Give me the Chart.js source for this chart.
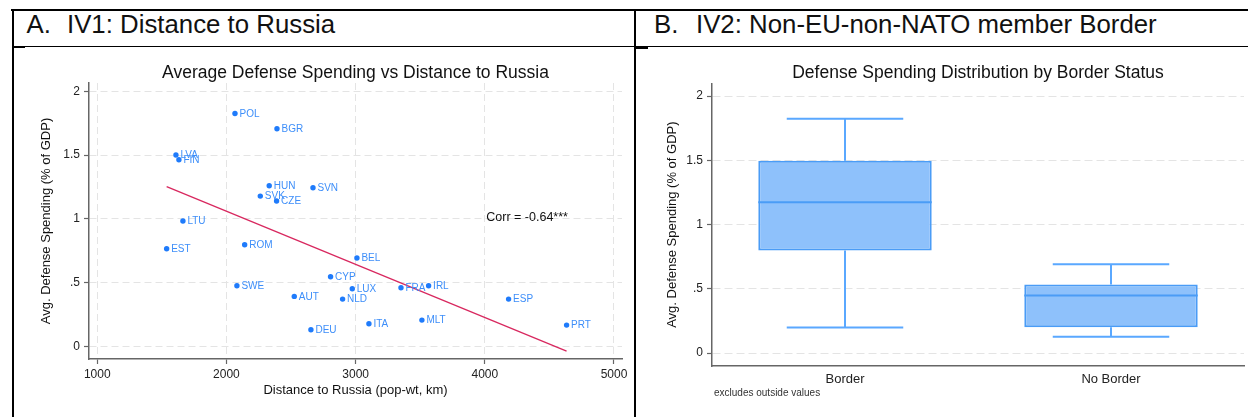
<!DOCTYPE html>
<html>
<head>
<meta charset="utf-8">
<script src="https://cdn.jsdelivr.net/npm/chart.js@4/dist/chart.umd.min.js"></script>
<style>
  html, body { margin: 0; padding: 0; background: #fff; }
  body { width: 1248px; height: 417px; position: relative; overflow: hidden;
         font-family: "Liberation Sans", Arial, sans-serif; }
  .rule { position: absolute; background: #000; }
  .hdr { position: absolute; font-size: 25.8px; line-height: 25.8px; color: #111; white-space: pre; }
  #wrapA { position: absolute; left: 13px; top: 48px; width: 619px; height: 369px; }
  #wrapB { position: absolute; left: 637px; top: 48px; width: 611px; height: 369px; }
  .note { position: absolute; left: 714px; top: 387px; font-size: 10px; line-height: 12px; color: #333; }
</style>
</head>
<body>
<!-- table frame -->
<div class="rule" style="left:11px;top:9px;width:1237px;height:2px;"></div>
<div class="rule" style="left:11.5px;top:9px;width:2px;height:408px;"></div>
<div class="rule" style="left:634px;top:9px;width:2px;height:408px;"></div>
<div class="rule" style="left:11.5px;top:45.5px;width:1236.5px;height:1.5px;"></div>
<div class="rule" style="left:13px;top:45.5px;width:12px;height:2.5px;"></div>
<div class="rule" style="left:636px;top:46px;width:12px;height:2.5px;"></div>

<span class="hdr" style="left:26.5px;top:11.7px;">A.</span>
<span class="hdr" style="left:67px;top:11.7px;">IV1: Distance to Russia</span>
<span class="hdr" style="left:654px;top:11.7px;">B.</span>
<span class="hdr" style="left:696px;top:11.7px;">IV2: Non-EU-non-NATO member Border</span>

<div id="wrapA"><canvas id="scatterChart"></canvas></div>
<div id="wrapB"><canvas id="boxChart"></canvas></div>
<div class="note">excludes outside values</div>

<script>
// ---- Panel A: average defense spending vs population-weighted distance to Russia ----
const countries = ['POL','BGR','LVA','FIN','HUN','SVN','SVK','CZE','LTU','EST','ROM','SWE',
                   'AUT','DEU','BEL','CYP','LUX','NLD','FRA','IRL','ESP','MLT','ITA','PRT'];
const distanceKm = [2066, 2391, 1609, 1632, 2331, 2670, 2262, 2388, 1663, 1537, 2141, 2081,
                    2525, 2654, 3010, 2806, 2974, 2899, 3351, 3565, 4184, 3513, 3103, 4633];
const defenseSpending = [1.826, 1.706, 1.500, 1.463, 1.259, 1.243, 1.178, 1.139, 0.982, 0.765, 0.796, 0.475,
                         0.391, 0.129, 0.692, 0.545, 0.451, 0.370, 0.459, 0.475, 0.370, 0.205, 0.176, 0.166];
const xTickValues = [1000, 2000, 3000, 4000, 5000];
const yTickValues = [0, 0.5, 1, 1.5, 2];
const yTickLabels = ['0', '.5', '1', '1.5', '2'];
const corrLabel = 'Corr = -0.64***';

// ---- Panel B: spending distribution by border status ----
const borderGroups = ['Border', 'No Border'];
const boxLow    = [0.200, 0.127];
const boxQ1     = [0.799, 0.202];
const boxMedian = [1.174, 0.449];
const boxQ3     = [1.498, 0.534];
const boxHigh   = [1.825, 0.692];

const FONT = '"Liberation Sans", Arial, sans-serif';
const AXIS_COLOR = '#666';
const GRID_COLOR = '#e4e4e4';

// least-squares fit of spending on distance, drawn across the observed distance range
function linearFit(xs, ys) {
  const n = xs.length;
  const mx = xs.reduce((a, b) => a + b, 0) / n;
  const my = ys.reduce((a, b) => a + b, 0) / n;
  let sxy = 0, sxx = 0;
  for (let i = 0; i < n; i++) { sxy += (xs[i] - mx) * (ys[i] - my); sxx += (xs[i] - mx) ** 2; }
  const slope = sxy / sxx;
  const x0 = Math.min(...xs), x1 = Math.max(...xs);
  return [{ x: x0, y: my + slope * (x0 - mx) }, { x: x1, y: my + slope * (x1 - mx) }];
}

const pointLabels = {
  id: 'pointLabels',
  afterDatasetsDraw(chart) {
    const ctx = chart.ctx;
    const meta = chart.getDatasetMeta(0);
    ctx.save();
    ctx.font = '10px ' + FONT;
    ctx.fillStyle = '#3d8ef9';
    ctx.textBaseline = 'middle';
    ctx.textAlign = 'left';
    meta.data.forEach((pt, i) => ctx.fillText(countries[i], pt.x + 4.5, pt.y + 0.5));
    const xs = chart.scales.x, ys = chart.scales.y;
    ctx.font = '12.5px ' + FONT;
    ctx.fillStyle = '#111';
    ctx.fillText(corrLabel, xs.getPixelForValue(4000) + 1.5, ys.getPixelForValue(1.0) - 1);
    ctx.restore();
  }
};

function fixedTicks(values) {
  return scale => { scale.ticks = values.map(v => ({ value: v })); };
}

new Chart(document.getElementById('scatterChart'), {
  type: 'scatter',
  data: {
    datasets: [
      {
        data: distanceKm.map((d, i) => ({ x: d, y: defenseSpending[i] })),
        backgroundColor: '#1f7bfb',
        borderWidth: 0,
        pointRadius: 2.7,
        order: 0
      },
      {
        type: 'line',
        data: linearFit(distanceKm, defenseSpending),
        borderColor: '#d8285f',
        borderWidth: 1.3,
        pointRadius: 0,
        fill: false,
        order: 1
      }
    ]
  },
  options: {
    responsive: true,
    maintainAspectRatio: false,
    animation: false,
    devicePixelRatio: 1,
    layout: { padding: { left: 0, right: 10, top: 0, bottom: 0 } },
    plugins: {
      legend: { display: false },
      tooltip: { enabled: false },
      title: {
        display: true,
        fullSize: false,
        text: 'Average Defense Spending vs Distance to Russia',
        color: '#111',
        font: { family: FONT, size: 17.5, weight: 'normal' },
        padding: { top: 14.5, bottom: -0.5 }
      }
    },
    scales: {
      x: {
        type: 'linear',
        min: 936, max: 5062,
        afterBuildTicks: fixedTicks(xTickValues),
        afterFit: s => { s.height = 58; s.paddingLeft = 0; s.paddingRight = 0; },
        ticks: { color: '#222', font: { family: FONT, size: 12 }, padding: 3.5,
                 callback: v => String(v) },
        grid: { color: GRID_COLOR, lineWidth: 1, tickLength: 5, tickColor: AXIS_COLOR, tickWidth: 1.2 },
        border: { display: true, color: AXIS_COLOR, width: 1.5, dash: [7, 4] },
        title: { display: true, text: 'Distance to Russia (pop-wt, km)', color: '#111',
                 font: { family: FONT, size: 13 }, padding: { top: 0, bottom: 18.5 } }
      },
      y: {
        type: 'linear',
        min: -0.1, max: 2.065,
        afterBuildTicks: fixedTicks(yTickValues),
        afterFit: s => { s.width = 76; s.paddingTop = 0; s.paddingBottom = 0; },
        ticks: { color: '#222', font: { family: FONT, size: 12 }, padding: 4,
                 callback: (v, i) => yTickLabels[i] },
        grid: { color: GRID_COLOR, lineWidth: 1, tickLength: 5, tickColor: AXIS_COLOR, tickWidth: 1.2 },
        border: { display: true, color: AXIS_COLOR, width: 1.5, dash: [7, 4] },
        title: { display: true, text: 'Avg. Defense Spending (% of GDP)', color: '#111',
                 font: { family: FONT, size: 13 }, padding: { top: 25.7, bottom: 0 } }
      }
    }
  },
  plugins: [pointLabels]
});

const boxWhiskers = {
  id: 'boxWhiskers',
  beforeDatasetsDraw(chart) {
    const ctx = chart.ctx, ys = chart.scales.y, xs = chart.scales.x;
    const catW = xs.width / borderGroups.length;
    const meta = chart.getDatasetMeta(0);
    ctx.save();
    ctx.strokeStyle = '#5aa8ff';
    ctx.lineWidth = 2;
    meta.data.forEach((bar, i) => {
      const cx = bar.x, half = catW * 0.219;
      const yHi = ys.getPixelForValue(boxHigh[i]);
      const yQ3 = ys.getPixelForValue(boxQ3[i]);
      const yQ1 = ys.getPixelForValue(boxQ1[i]);
      const yLo = ys.getPixelForValue(boxLow[i]);
      ctx.beginPath();
      ctx.moveTo(cx, yQ3); ctx.lineTo(cx, yHi);
      ctx.moveTo(cx - half, yHi); ctx.lineTo(cx + half, yHi);
      ctx.moveTo(cx, yQ1); ctx.lineTo(cx, yLo);
      ctx.moveTo(cx - half, yLo); ctx.lineTo(cx + half, yLo);
      ctx.stroke();
    });
    ctx.restore();
  },
  afterDatasetsDraw(chart) {
    const ctx = chart.ctx, ys = chart.scales.y;
    const meta = chart.getDatasetMeta(0);
    ctx.save();
    ctx.strokeStyle = '#4a9cf6';
    ctx.lineWidth = 2;
    meta.data.forEach((bar, i) => {
      const y = ys.getPixelForValue(boxMedian[i]);
      ctx.beginPath();
      ctx.moveTo(bar.x - bar.width / 2, y);
      ctx.lineTo(bar.x + bar.width / 2, y);
      ctx.stroke();
    });
    ctx.restore();
  }
};

new Chart(document.getElementById('boxChart'), {
  type: 'bar',
  data: {
    labels: borderGroups,
    datasets: [{
      data: boxQ1.map((q, i) => [q, boxQ3[i]]),
      backgroundColor: '#8ec1fb',
      borderColor: '#4a9cf6',
      borderWidth: 2,
      borderSkipped: false,
      barPercentage: 0.652,
      categoryPercentage: 1
    }]
  },
  options: {
    responsive: true,
    maintainAspectRatio: false,
    animation: false,
    devicePixelRatio: 1,
    layout: { padding: { left: 0, right: 4, top: 0, bottom: 0 } },
    plugins: {
      legend: { display: false },
      tooltip: { enabled: false },
      title: {
        display: true,
        fullSize: false,
        text: 'Defense Spending Distribution by Border Status',
        color: '#111',
        font: { family: FONT, size: 17.5, weight: 'normal' },
        padding: { top: 14.2, bottom: 0.1 }
      }
    },
    scales: {
      x: {
        type: 'category',
        offset: true,
        afterFit: s => { s.height = 51; s.paddingLeft = 0; s.paddingRight = 0; },
        ticks: { color: '#222', font: { family: FONT, size: 13 }, padding: -2 },
        grid: { display: false },
        border: { display: true, color: AXIS_COLOR, width: 1.5 }
      },
      y: {
        type: 'linear',
        min: -0.1, max: 2.1,
        afterBuildTicks: fixedTicks(yTickValues),
        afterFit: s => { s.width = 75; s.paddingTop = 0; s.paddingBottom = 0; },
        ticks: { color: '#222', font: { family: FONT, size: 12 }, padding: 4,
                 callback: (v, i) => yTickLabels[i] },
        grid: { color: GRID_COLOR, lineWidth: 1, tickLength: 5, tickColor: AXIS_COLOR, tickWidth: 1.2 },
        border: { display: true, color: AXIS_COLOR, width: 1.5, dash: [8, 4] },
        title: { display: true, text: 'Avg. Defense Spending (% of GDP)', color: '#111',
                 font: { family: FONT, size: 13 }, padding: { top: 27.2, bottom: 0 } }
      }
    }
  },
  plugins: [boxWhiskers]
});
</script>
</body>
</html>
